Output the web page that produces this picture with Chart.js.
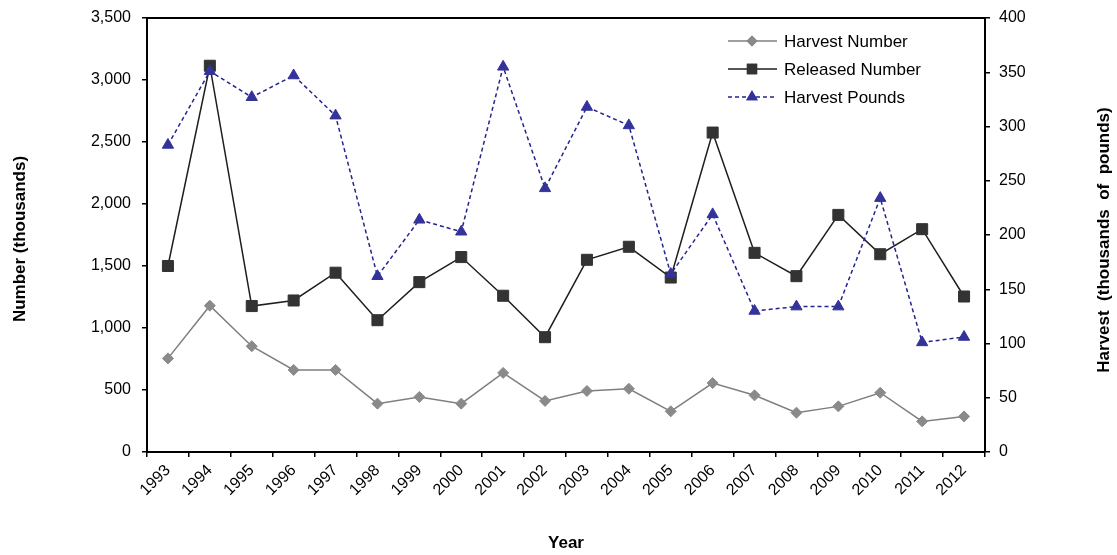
<!DOCTYPE html>
<html>
<head>
<meta charset="utf-8">
<script src="https://cdn.jsdelivr.net/npm/chart.js@4.4.1/dist/chart.umd.min.js"></script>
<style>
  body { margin: 0; background: #fff; }
  canvas { display: block; }
</style>
</head>
<body>
<canvas id="chart" width="1117" height="555"></canvas>
<script>
// values
const years = ['1993', '1994', '1995', '1996', '1997', '1998', '1999', '2000', '2001', '2002',
  '2003', '2004', '2005', '2006', '2007', '2008', '2009', '2010', '2011', '2012'];
// thousands of fish (left axis)
const harvestNumber = [755, 1180, 853, 662, 662, 390, 444, 390, 638, 412,
  492, 510, 328, 556, 457, 317, 368, 478, 247, 287];
const releasedNumber = [1500, 3115, 1177, 1222, 1446, 1063, 1370, 1572, 1260, 926,
  1550, 1655, 1407, 2576, 1606, 1418, 1912, 1595, 1797, 1254];
// thousands of pounds (right axis)
const harvestPounds = [283, 351, 327, 347, 310, 162, 214, 203, 355, 243,
  318, 301, 164, 219, 130, 134, 134, 234, 101, 106];

const FONT = "'Liberation Sans', Arial, sans-serif";
Chart.defaults.font.family = FONT;
Chart.defaults.color = '#000';

const series = [
  { label: 'Harvest Number', data: harvestNumber, axis: 'y', color: '#7f7f7f', point: 'rectRot', r: 5.5, dash: [], order: 2, pointColor: '#8a8a8a' },
  { label: 'Released Number', data: releasedNumber, axis: 'y', color: '#1e1e1e', point: 'rect', r: 7.8, dash: [], order: 1, pointColor: '#333333' },
  { label: 'Harvest Pounds', data: harvestPounds, axis: 'y2', color: '#24248f', point: 'triangle', r: 6.5, dash: [4, 3], order: 0, pointColor: '#33339a' },
];

// legend, axis titles and top border drawn by hand so they sit where the reference has them
const extras = {
  id: 'extras',
  afterDraw(chart) {
    const ctx = chart.ctx;
    const a = chart.chartArea;
    ctx.save();
    ctx.strokeStyle = '#000';
    ctx.lineWidth = 2;
    ctx.beginPath();
    ctx.moveTo(a.left, a.top);
    ctx.lineTo(a.right, a.top);
    ctx.stroke();

    ctx.fillStyle = '#000';
    ctx.font = 'bold 17px ' + FONT;
    ctx.textAlign = 'center';
    ctx.textBaseline = 'middle';
    ctx.fillText('Year', (a.left + a.right) / 2, 543);

    ctx.save();
    ctx.translate(20, 239);
    ctx.rotate(-Math.PI / 2);
    ctx.fillText('Number (thousands)', 0, 0);
    ctx.restore();

    ctx.save();
    ctx.translate(1104, 240);
    ctx.rotate(-Math.PI / 2);
    ctx.fillText('Harvest  (thousands  of  pounds)', 0, 0);
    ctx.restore();

    // legend
    ctx.font = '17px ' + FONT;
    ctx.textAlign = 'left';
    series.forEach((s, i) => {
      const y = 41 + i * 28;
      ctx.strokeStyle = s.color;
      ctx.lineWidth = 1.5;
      ctx.setLineDash(s.dash);
      ctx.beginPath();
      ctx.moveTo(728, y);
      ctx.lineTo(777, y);
      ctx.stroke();
      ctx.setLineDash([]);
      Chart.helpers.drawPoint(ctx, {
        pointStyle: s.point, radius: s.r * 0.8, rotation: 0, borderWidth: 1
      }, 752, y);
      ctx.fillStyle = s.pointColor;
      ctx.strokeStyle = s.pointColor;
      ctx.fill();
      ctx.stroke();
      ctx.fillStyle = '#000';
      ctx.fillText(s.label, 784, y + 1);
    });
    ctx.restore();
  }
};

const axisGrid = { display: true, drawOnChartArea: false, color: '#000', lineWidth: 1.5, tickLength: 5 };

function fixY(width) {
  return scale => {
    scale.width = width;
    scale.paddingTop = 0;
    scale.paddingBottom = 0;
  };
}

new Chart(document.getElementById('chart'), {
  type: 'line',
  data: {
    labels: years,
    datasets: series.map(s => ({
      label: s.label,
      data: s.data,
      yAxisID: s.axis,
      order: s.order,
      borderColor: s.color,
      borderWidth: 1.5,
      borderDash: s.dash,
      pointStyle: s.point,
      pointRadius: s.r,
      pointBackgroundColor: s.pointColor,
      pointBorderColor: s.pointColor,
      pointBorderWidth: 1,
      tension: 0,
      fill: false
    }))
  },
  options: {
    responsive: false,
    animation: false,
    layout: { padding: { top: 18, left: 0, right: 0, bottom: 0 } },
    plugins: { legend: { display: false }, tooltip: { enabled: false } },
    scales: {
      x: {
        type: 'category',
        offset: true,
        grid: { ...axisGrid, offset: true },
        border: { color: '#000', width: 2 },
        ticks: { autoSkip: false, minRotation: 45, maxRotation: 45, padding: 4, font: { size: 16 } },
        afterFit(scale) { scale.height = 103; }
      },
      y: {
        position: 'left',
        min: 0,
        max: 3500,
        grid: axisGrid,
        border: { color: '#000', width: 2 },
        ticks: { stepSize: 500, padding: 11, font: { size: 16 }, callback: v => v.toLocaleString('en-US') },
        afterFit: fixY(147)
      },
      y2: {
        position: 'right',
        min: 0,
        max: 400,
        grid: axisGrid,
        border: { color: '#000', width: 2 },
        ticks: { stepSize: 50, padding: 9, font: { size: 16 } },
        afterFit: fixY(132)
      }
    }
  },
  plugins: [extras]
});
</script>
</body>
</html>
